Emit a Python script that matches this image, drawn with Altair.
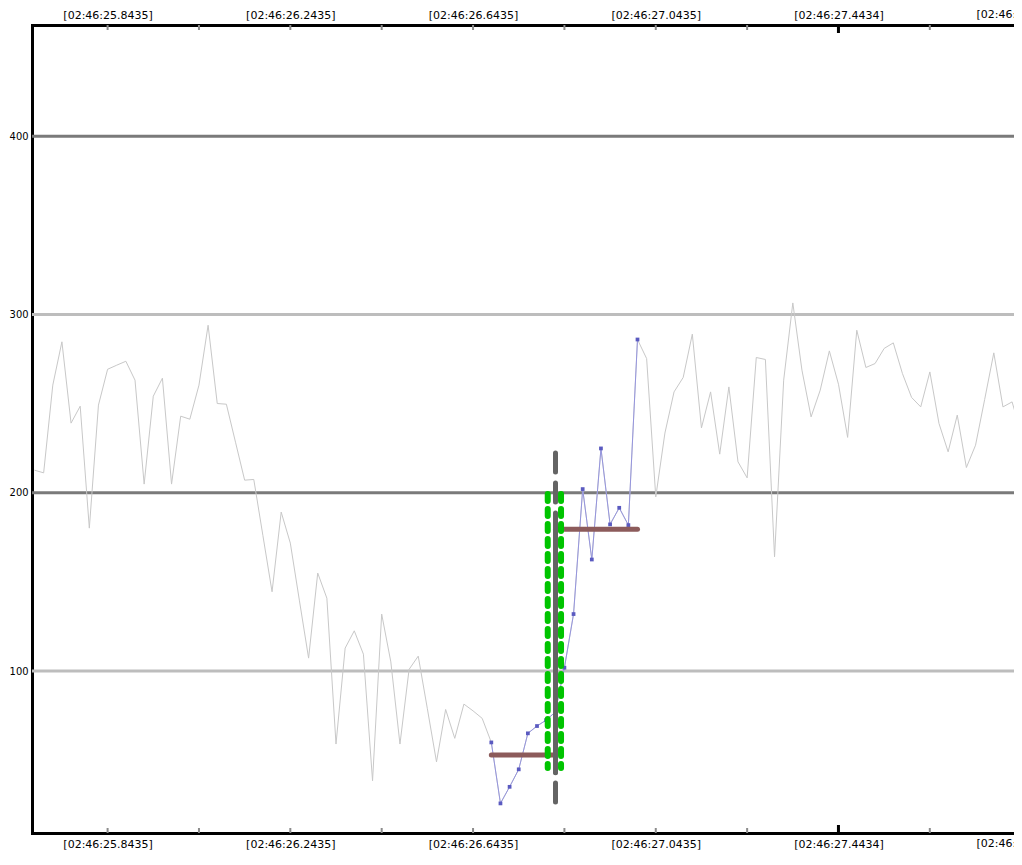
import altair as alt
import pandas as pd

# ---------------- data ----------------
SAMPLE_START = 25.6835   # seconds after 02:46:00
SAMPLE_STEP = 0.02       # 50 Hz sampling

signal_values = [
    212.7, 211.2, 260.4, 284.7, 239.1, 248.6, 180.2, 249.2, 269.3, 271.6,
    273.8, 263.2, 204.9, 254.2, 264.3, 204.9, 243.0, 241.3, 260.4, 294.0,
    250.1, 249.7, 228.4, 207.1, 207.5, 176.0, 144.5, 189.2, 171.8, 139.4,
    107.3, 155.0, 140.9, 59.1, 112.9, 122.6, 109.5, 38.5, 132.0, 105.2,
    59.1, 101.0, 108.4, 78.9, 49.1, 78.5, 62.3, 81.5, 77.7, 73.5,
    60.0, 25.8, 35.1, 44.9, 65.1, 69.2, 72.5, 77.0, 101.9, 132.0,
    202.1, 162.6, 224.9, 182.3, 191.6, 181.9, 286.0, 275.3, 197.7, 233.5,
    256.6, 264.7, 289.0, 236.4, 256.6, 221.7, 259.4, 217.4, 208.4, 275.9,
    274.8, 164.1, 263.2, 306.5, 268.8, 242.6, 257.6, 279.6, 260.9, 231.1,
    291.2, 270.3, 272.5, 281.0, 284.1, 266.9, 253.5, 248.2, 267.8, 238.9,
    223.0, 243.6, 214.2, 226.7, 252.4, 278.5, 248.2, 251.0, 233.3,
]
highlight_first = 50
highlight_last = 66

grid_major = [200, 400]
grid_minor = [100, 300]
y_tick_values = [100, 200, 300, 400]

label_times = [25.8435, 26.2435, 26.6435, 27.0435, 27.4434, 27.8434]
label_texts = ["[02:46:25.8435]", "[02:46:26.2435]", "[02:46:26.6435]",
               "[02:46:27.0435]", "[02:46:27.4434]", "[02:46:27.8434]"]
tick_times = [25.8435, 26.0435, 26.2435, 26.4435, 26.6435, 26.8435,
              27.0435, 27.2435, 27.4434, 27.6434, 27.8434]
strong_tick_times = [27.4434]

level_starts = [26.6835, 26.8240]
level_ends = [26.8240, 27.0035]
level_values = [53.0, 179.6]

cursor_time = 26.8240
cursor_low, cursor_high = 26.1, 222.4
cursor_core_low, cursor_core_high = 43.0, 187.9
bound_times = [26.8070, 26.8361]
bound_low, bound_high = 45.7, 199.4

X_DOMAIN = [25.6780, 27.8277]
Y_DOMAIN = [9.2, 462.4]
W, H = 982, 808
FONT = "DejaVu Sans"
Y_FONT = "DejaVu Sans Condensed, DejaVu Sans"
LABEL_PAD = 5

# ---------------- tables ----------------
times = [round(SAMPLE_START + SAMPLE_STEP * i, 4) for i in range(len(signal_values))]
sig = pd.DataFrame({"t": times, "v": signal_values})
hl = sig.iloc[highlight_first:highlight_last + 1]
gmaj = pd.DataFrame({"v": grid_major})
gmin = pd.DataFrame({"v": grid_minor})
ticks = pd.DataFrame({"t": tick_times})
sticks = pd.DataFrame({"t": strong_tick_times})
levels = pd.DataFrame({"t": level_starts, "t2": level_ends, "v": level_values})
cursor = pd.DataFrame({"t": [cursor_time], "lo": [cursor_low], "hi": [cursor_high]})
cursor_core = pd.DataFrame({"t": [cursor_time], "lo": [cursor_core_low], "hi": [cursor_core_high]})
bounds = pd.DataFrame({"t": bound_times, "lo": [bound_low] * len(bound_times),
                       "hi": [bound_high] * len(bound_times)})
# labels whose tick lies past the visible right edge (drawn as text, clipped by the page)
edge_labels = pd.DataFrame({"t": [t for t in label_times if t > X_DOMAIN[1]],
                            "s": [s for t, s in zip(label_times, label_texts) if t > X_DOMAIN[1]]})

label_expr = " : ".join(
    f"abs(datum.value - {t}) < 0.00001 ? '{s}'" for t, s in zip(label_times, label_texts)
) + " : ''"

xs = alt.Scale(domain=X_DOMAIN, nice=False, zero=False)
ys = alt.Scale(domain=Y_DOMAIN, nice=False, zero=False)
in_domain_labels = [t for t in label_times if t <= X_DOMAIN[1]]


def x_axis(orient):
    return alt.Axis(orient=orient, values=in_domain_labels, labelExpr=label_expr,
                    grid=False, ticks=False, tickSize=0, domainColor="black",
                    domainWidth=3, domainCap="square", labelFont=FONT,
                    labelFontSize=11, labelColor="black", labelPadding=LABEL_PAD,
                    labelFlush=False, labelOverlap=False, labelBound=False,
                    title=None)


y_axis = alt.Axis(orient="left", values=y_tick_values, grid=False, ticks=False,
                  tickSize=0, domainColor="black", domainWidth=3, domainCap="square",
                  labelFont=Y_FONT, labelFontSize=11, labelColor="black",
                  labelPadding=4, labelFlush=False, title=None)


def Y(field):
    return alt.Y(field, scale=ys, axis=y_axis)


grid_minor_layer = alt.Chart(gmin).mark_rule(color="#bdbdbd", strokeWidth=3).encode(
    y=Y("v:Q"))
grid_major_layer = alt.Chart(gmaj).mark_rule(color="#7a7a7a", strokeWidth=3).encode(
    y=Y("v:Q"))

line_layer = alt.Chart(sig).mark_line(color="#c8c8c8", strokeWidth=1).encode(
    x=alt.X("t:Q", scale=xs, axis=x_axis("bottom")),
    y=Y("v:Q"))

top_ticks = alt.Chart(ticks).mark_rule(color="#8c8c8c", strokeWidth=2).encode(
    x=alt.X("t:Q", scale=xs, axis=x_axis("top")),
    y=alt.value(0), y2=alt.value(5))
bottom_ticks = alt.Chart(ticks).mark_rule(color="#8c8c8c", strokeWidth=2).encode(
    x=alt.X("t:Q", scale=xs, axis=None),
    y=alt.value(H - 5), y2=alt.value(H))
strong_top = alt.Chart(sticks).mark_rule(color="black", strokeWidth=3).encode(
    x=alt.X("t:Q", scale=xs, axis=None), y=alt.value(0), y2=alt.value(8))
strong_bottom = alt.Chart(sticks).mark_rule(color="black", strokeWidth=3).encode(
    x=alt.X("t:Q", scale=xs, axis=None), y=alt.value(H - 8), y2=alt.value(H))

edge_top = alt.Chart(edge_labels).mark_text(font=FONT, fontSize=11, color="black",
                                            baseline="bottom", align="center").encode(
    x=alt.X("t:Q", scale=xs, axis=None), y=alt.value(-LABEL_PAD), text="s:N")
edge_bottom = alt.Chart(edge_labels).mark_text(font=FONT, fontSize=11, color="black",
                                               baseline="top", align="center").encode(
    x=alt.X("t:Q", scale=xs, axis=None), y=alt.value(H + LABEL_PAD), text="s:N")

hl_line = alt.Chart(hl).mark_line(color="#8f8fe0", strokeWidth=1, opacity=0.9).encode(
    x=alt.X("t:Q", scale=xs, axis=None), y=Y("v:Q"))
hl_points = alt.Chart(hl).mark_square(color="#5a5ac0", size=14, opacity=1).encode(
    x=alt.X("t:Q", scale=xs, axis=None), y=Y("v:Q"))

level_layer = alt.Chart(levels).mark_rule(color="#8c5b5b", strokeWidth=5, strokeCap="round").encode(
    x=alt.X("t:Q", scale=xs, axis=None), x2="t2:Q", y=Y("v:Q"))

bounds_layer = alt.Chart(bounds).mark_rule(color="#00c400", strokeWidth=6, strokeCap="round",
                                           strokeDash=[7, 8]).encode(
    x=alt.X("t:Q", scale=xs, axis=None), y=Y("hi:Q"), y2="lo:Q")

cursor_core_layer = alt.Chart(cursor_core).mark_rule(color="#646464", strokeWidth=5,
                                                     strokeCap="round").encode(
    x=alt.X("t:Q", scale=xs, axis=None), y=Y("hi:Q"), y2="lo:Q")
cursor_layer = alt.Chart(cursor).mark_rule(color="#646464", strokeWidth=5, strokeCap="round",
                                           strokeDash=[19, 11]).encode(
    x=alt.X("t:Q", scale=xs, axis=None), y=Y("hi:Q"), y2="lo:Q")

chart = alt.layer(
    grid_minor_layer, grid_major_layer, line_layer, top_ticks, bottom_ticks,
    strong_top, strong_bottom, edge_top, edge_bottom, hl_line, hl_points,
    level_layer, bounds_layer, cursor_core_layer, cursor_layer,
).resolve_scale(x="shared", y="shared").resolve_axis(x="independent").properties(
    width=W, height=H,
    padding={"left": 24, "top": 17, "right": 0, "bottom": 20},
    autosize=alt.AutoSizeParams(type="none"),
).configure_view(stroke=None).configure(background="white")

chart.save("out.html", embed_options={"renderer": "svg", "actions": False})
